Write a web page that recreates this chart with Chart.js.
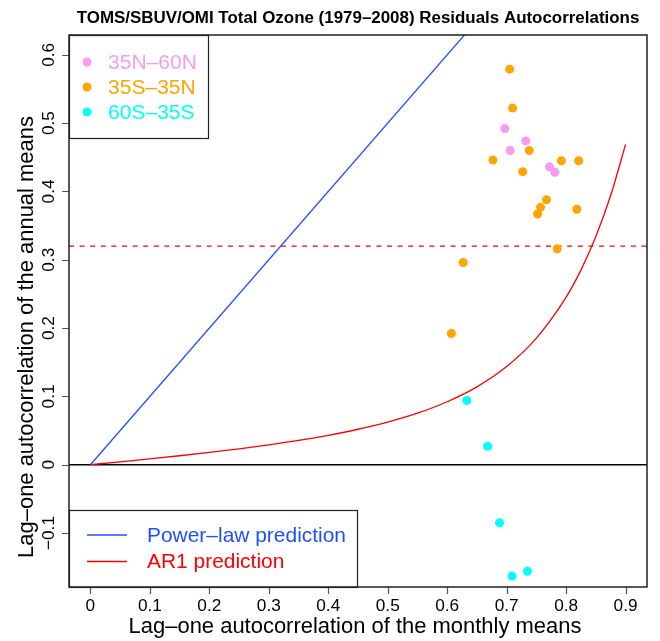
<!DOCTYPE html>
<html>
<head>
<meta charset="utf-8">
<script src="https://cdn.jsdelivr.net/npm/chart.js@4/dist/chart.umd.min.js"></script>
<style>
  html, body { margin: 0; padding: 0; background: #fff; }
</style>
</head>
<body>
<canvas id="ozoneChart" width="660" height="641"></canvas>
<script>
// 35N-60N points
const nhX = [0.697, 0.706, 0.732, 0.772, 0.781];
const nhY = [0.492, 0.460, 0.474, 0.436, 0.428];
// 35S-35N points
const trX = [0.705, 0.710, 0.738, 0.677, 0.727, 0.792, 0.821, 0.767, 0.757, 0.752, 0.818, 0.785, 0.627, 0.607];
const trY = [0.579, 0.522, 0.460, 0.446, 0.429, 0.445, 0.445, 0.388, 0.377, 0.367, 0.374, 0.316, 0.296, 0.192];
// 60S-35S points
const shX = [0.633, 0.668, 0.688, 0.709, 0.735];
const shY = [0.094, 0.027, -0.085, -0.163, -0.156];

// prediction curves
const powerX = [0, 0.9];
const powerY = [0, 0.9];
const ar1X = [0, 0.05, 0.1, 0.15, 0.2, 0.25, 0.3, 0.35, 0.4, 0.45, 0.5, 0.55, 0.6, 0.65, 0.7, 0.75, 0.8, 0.825, 0.85, 0.875, 0.9];
const ar1Y = [0, 0.0042, 0.0086, 0.0131, 0.018, 0.0233, 0.0291, 0.0356, 0.0431, 0.0519, 0.0625, 0.0755, 0.0922, 0.114, 0.1436, 0.1852, 0.2452, 0.2852, 0.3341, 0.3944, 0.4689];
const threshold = 0.32;

const xTicks = [0, 0.1, 0.2, 0.3, 0.4, 0.5, 0.6, 0.7, 0.8, 0.9];
const xTickLabels = ['0', '0.1', '0.2', '0.3', '0.4', '0.5', '0.6', '0.7', '0.8', '0.9'];
const yTicks = [-0.1, 0, 0.1, 0.2, 0.3, 0.4, 0.5, 0.6];
const yTickLabels = ['\u22120.1', '0', '0.1', '0.2', '0.3', '0.4', '0.5', '0.6'];

const xMin = -0.036, xMax = 0.936, yMin = -0.179, yMax = 0.629;

const FONT = '"Liberation Sans", Arial, Helvetica, sans-serif';
const PINK = '#F99BEE', ORANGE = '#FFA500', CYAN = '#00FFFF', BLUE = '#1F4FFF', RED = '#FF0000';

const pts = (xs, ys) => xs.map((x, i) => ({ x: x, y: ys[i] }));

function fitFont(c, txt, w, weight) {
    c.font = weight + ' 20px ' + FONT;
    const s = 20 * w / c.measureText(txt).width;
    return weight + ' ' + s.toFixed(2) + 'px ' + FONT;
}

const decor = {
    id: 'decor',
    afterDraw(chart) {
        const c = chart.ctx;
        const a = chart.chartArea;
        const xs = chart.scales.x, ys = chart.scales.y;
        c.save();

        // tick marks
        c.strokeStyle = '#555';
        c.lineWidth = 1.2;
        c.beginPath();
        xTicks.forEach(v => {
            const px = Math.round(xs.getPixelForValue(v)) + 0.5;
            c.moveTo(px, a.bottom); c.lineTo(px, a.bottom + 7);
        });
        yTicks.forEach(v => {
            const py = Math.round(ys.getPixelForValue(v)) + 0.5;
            c.moveTo(a.left, py); c.lineTo(a.left - 7, py);
        });
        c.stroke();

        // tick labels
        c.fillStyle = '#000';
        const tickFont = fitFont(c, '0.1', 24, 'normal');
        c.font = tickFont;
        c.textAlign = 'center';
        c.textBaseline = 'alphabetic';
        xTicks.forEach((v, i) => {
            c.fillText(xTickLabels[i], xs.getPixelForValue(v), 611);
        });
        yTicks.forEach((v, i) => {
            c.save();
            c.translate(54, ys.getPixelForValue(v));
            c.rotate(-Math.PI / 2);
            c.fillText(yTickLabels[i], 0, 0);
            c.restore();
        });

        // axis titles
        const xTitle = 'Lag\u2013one autocorrelation of the monthly means';
        const axFont = fitFont(c, xTitle, 453, 'normal');
        c.font = axFont;
        const cx = (a.left + a.right) / 2;
        c.fillText(xTitle, cx - 3, 633);
        c.save();
        c.translate(33, 337);
        c.rotate(-Math.PI / 2);
        c.fillText('Lag\u2013one autocorrelation of the annual means', 0, 0);
        c.restore();

        // main title
        const title = 'TOMS/SBUV/OMI Total Ozone (1979\u20132008) Residuals Autocorrelations';
        c.font = fitFont(c, title, 563, 'bold');
        c.fillText(title, cx, 23);

        // legend: regions
        c.fillStyle = '#fff';
        c.fillRect(a.left, a.top, 139, 103);
        c.strokeStyle = '#222';
        c.lineWidth = 1.2;
        c.strokeRect(a.left + 0.5, a.top + 0.5, 139, 103);
        const regNames = ['35N\u201360N', '35S\u201335N', '60S\u201335S'];
        const regCols = [PINK, ORANGE, CYAN];
        const legFont = fitFont(c, regNames[0], 89, 'normal');
        c.textAlign = 'left';
        c.textBaseline = 'middle';
        regNames.forEach((n, i) => {
            const y = a.top + 27 + i * 25;
            c.fillStyle = regCols[i];
            c.beginPath();
            c.arc(87, y, 4.5, 0, Math.PI * 2);
            c.fill();
            c.font = legFont;
            c.fillText(n, 108, y + 1);
        });

        // legend: predictions
        const ly = 510;
        c.fillStyle = '#fff';
        c.fillRect(a.left, ly, 288, a.bottom - ly);
        c.strokeStyle = '#222';
        c.strokeRect(a.left + 0.5, ly + 0.5, 288, a.bottom - ly);
        const predNames = ['Power\u2013law prediction', 'AR1 prediction'];
        const predCols = [BLUE, RED];
        const predFont = fitFont(c, predNames[0], 199, 'normal');
        predNames.forEach((n, i) => {
            const y = 535 + i * 26.5;
            c.strokeStyle = predCols[i];
            c.lineWidth = 1.3;
            c.beginPath();
            c.moveTo(87, y); c.lineTo(127, y);
            c.stroke();
            c.fillStyle = predCols[i];
            c.font = predFont;
            c.fillText(n, 147, y + 1);
        });

        // plot box
        c.strokeStyle = '#222';
        c.lineWidth = 1.5;
        c.strokeRect(a.left, a.top, a.right - a.left, a.bottom - a.top);
        c.restore();
    }
};

new Chart(document.getElementById('ozoneChart'), {
    type: 'scatter',
    data: {
        datasets: [
            { label: '35N-60N', data: pts(nhX, nhY), backgroundColor: PINK, pointRadius: 4.5, pointBorderWidth: 0, order: 0 },
            { label: '35S-35N', data: pts(trX, trY), backgroundColor: ORANGE, pointRadius: 4.5, pointBorderWidth: 0, order: 0 },
            { label: '60S-35S', data: pts(shX, shY), backgroundColor: CYAN, pointRadius: 4.5, pointBorderWidth: 0, order: 0 },
            { label: 'zero', data: pts([xMin, xMax], [0, 0]), showLine: true, borderColor: '#000', borderWidth: 1.5, pointRadius: 0, order: 2 },
            { label: 'threshold', data: pts([xMin, xMax], [threshold, threshold]), showLine: true, borderColor: RED, borderWidth: 1.3, borderDash: [5, 5.6], pointRadius: 0, order: 2 },
            { label: 'Power-law prediction', data: pts(powerX, powerY), showLine: true, borderColor: BLUE, borderWidth: 1.3, pointRadius: 0, order: 1 },
            { label: 'AR1 prediction', data: pts(ar1X, ar1Y), showLine: true, borderColor: RED, borderWidth: 1.3, pointRadius: 0, cubicInterpolationMode: 'monotone', order: 1 }
        ]
    },
    options: {
        responsive: false,
        animation: false,
        events: [],
        layout: { padding: { top: 35, right: 13, left: 0, bottom: 0 } },
        plugins: { legend: { display: false }, tooltip: { enabled: false }, title: { display: false } },
        scales: {
            x: {
                type: 'linear', min: xMin, max: xMax,
                grid: { display: false }, border: { display: false },
                ticks: { display: false },
                afterFit: s => { s.height = 54; }
            },
            y: {
                type: 'linear', min: yMin, max: yMax,
                grid: { display: false }, border: { display: false },
                ticks: { display: false },
                afterFit: s => { s.width = 69; }
            }
        }
    },
    plugins: [decor]
});
</script>
</body>
</html>
